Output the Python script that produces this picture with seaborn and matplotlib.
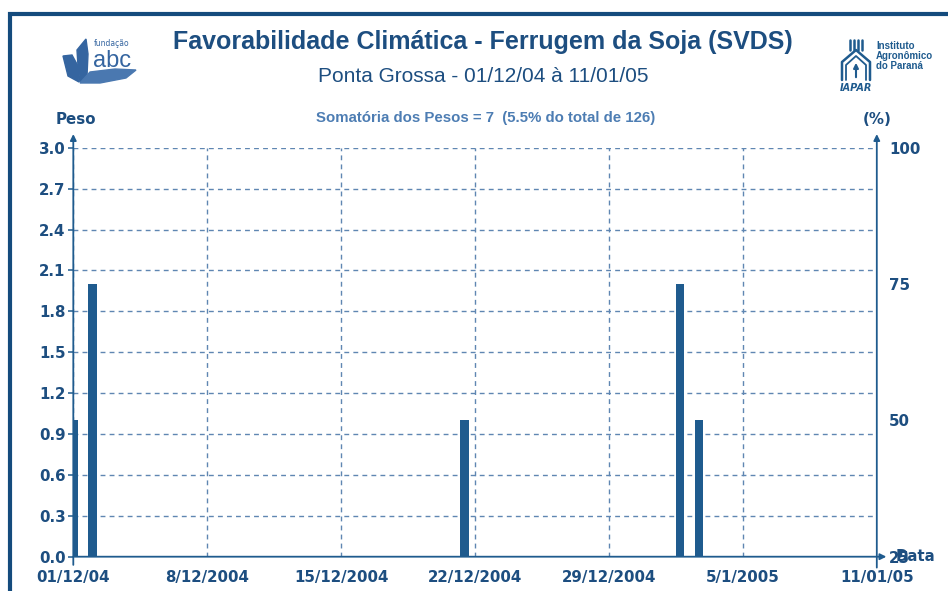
import pandas as pd
import matplotlib
matplotlib.use("Agg")
import matplotlib.pyplot as plt
import matplotlib.patches as mpatches
import seaborn as sns

# Data
inicio = pd.Timestamp("2004-12-01")
datas = ["2004-12-01 00:00", "2004-12-02 00:00", "2004-12-21 11:00",
         "2005-01-01 17:00", "2005-01-02 17:00"]
pesos = [1, 2, 1, 2, 1]
tick_dias = [0, 7, 14, 21, 28, 35, 42]
tick_rotulos = ["01/12/04", "8/12/2004", "15/12/2004", "22/12/2004",
                "29/12/2004", "5/1/2005", "11/01/05"]
peso_ticks = [0.0, 0.3, 0.6, 0.9, 1.2, 1.5, 1.8, 2.1, 2.4, 2.7, 3.0]
pct_ticks = [25, 50, 75, 100]

dias = [(pd.Timestamp(d) - inicio) / pd.Timedelta(days=1) for d in datas]
df = pd.DataFrame({"dia": dias, "peso": pesos})

# Colors
AZUL = "#1f5b8e"
AZUL_TXT = "#1d4e80"
AZUL_CLARO = "#4d7db3"
GRADE = "#5f86b2"

W, H = 948, 591
def fx(px):
    return px / W
def fy(py):
    return 1 - py / H

sns.set_style("white")
plt.rcParams["font.family"] = ["DejaVu Sans"]

fig = plt.figure(figsize=(9.48, 5.91), dpi=100)
fig.patch.set_facecolor("white")

# Main axes
ax = fig.add_axes([fx(73.3), fy(556.7), fx(876.8) - fx(73.3), fy(147.7) - fy(556.7)])
sns.barplot(data=df, x="dia", y="peso", native_scale=True, width=0.45,
            color=AZUL, saturation=1, errorbar=None, ax=ax, zorder=3)
for p in ax.patches:
    p.set_edgecolor("none")

ax.set_xlim(0, 42)
ax.set_ylim(0, 3.0)
ax.set_xticks(tick_dias)
ax.set_xticklabels(tick_rotulos)
ax.set_yticks(peso_ticks)
ax.set_yticklabels([f"{v:.1f}" for v in peso_ticks])
ax.set_xlabel("")
ax.set_ylabel("")
for s in ax.spines.values():
    s.set_visible(False)
ax.set_axisbelow(True)
ax.grid(True, linestyle=(0, (3.5, 3)), color=GRADE, linewidth=1.0)
ax.tick_params(axis="both", colors=AZUL, labelcolor=AZUL_TXT, length=3.5,
               width=1.1, direction="out", labelsize=10.8)
ax.tick_params(axis="x", pad=6)
ax.tick_params(axis="y", pad=2)
for lbl in ax.get_xticklabels() + ax.get_yticklabels():
    lbl.set_fontweight("bold")
ax.set_facecolor("none")

# Right percentage axis
ax2 = ax.twinx()
ax2.set_ylim(25, 100)
ax2.set_yticks(pct_ticks)
ax2.set_yticklabels([str(v) for v in pct_ticks])
for s in ax2.spines.values():
    s.set_visible(False)
ax2.tick_params(axis="y", length=0, pad=9, labelcolor=AZUL_TXT, labelsize=10.8)
for lbl in ax2.get_yticklabels():
    lbl.set_fontweight("bold")
ax2.grid(False)

# Axis lines with arrows
seta = dict(arrowstyle="-|>", color=AZUL, lw=1.3, mutation_scale=9,
            shrinkA=0, shrinkB=0)
ax.annotate("", xy=(0, 3.1), xytext=(0, -0.06), arrowprops=seta,
            annotation_clip=False, zorder=5)
ax.annotate("", xy=(42, 3.1), xytext=(42, -0.08), arrowprops=seta,
            annotation_clip=False, zorder=5)
ax.annotate("", xy=(42.5, 0), xytext=(0, 0), arrowprops=seta,
            annotation_clip=False, zorder=5)

# Axis titles
fig.text(fx(76), fy(119), "Peso", ha="center", va="center", fontsize=10.8,
         fontweight="bold", color=AZUL_TXT)
fig.text(fx(877), fy(120), "(%)", ha="center", va="center", fontsize=10.8,
         fontweight="bold", color=AZUL_TXT)
fig.text(fx(896), fy(556.7), "Data", ha="left", va="center", fontsize=10.8,
         fontweight="bold", color=AZUL_TXT)

# Titles
fig.text(fx(483), fy(42), "Favorabilidade Climática - Ferrugem da Soja (SVDS)",
         ha="center", va="center", fontsize=18, fontweight="bold",
         color=AZUL_TXT, family="Liberation Sans")
fig.text(fx(483), fy(77), "Ponta Grossa - 01/12/04 à 11/01/05",
         ha="center", va="center", fontsize=15, color=AZUL_TXT,
         family="Liberation Sans")
fig.text(fx(486), fy(118), "Somatória dos Pesos = 7  (5.5% do total de 126)",
         ha="center", va="center", fontsize=10.8, fontweight="bold",
         color=AZUL_CLARO, family="Liberation Sans")

# Outer frame
fig.patches.append(mpatches.Rectangle((fx(9.7), -0.1), 1.2, fy(13.5) + 0.1,
                                      transform=fig.transFigure, fill=False,
                                      edgecolor="#144b7d", linewidth=3))

# Logo fundação abc (simple sketch)
lg = fig.add_axes([fx(60), fy(86), fx(80), fy(36) - fy(86)])
lg.set_xlim(0, 80)
lg.set_ylim(50, 0)
lg.axis("off")
LOGO = "#3565a0"
lg.add_patch(mpatches.Polygon([[3, 20], [12, 19], [18, 30], [19, 46], [8, 40]],
                              closed=True, color=LOGO))
lg.add_patch(mpatches.Polygon([[17, 14], [26, 3], [28, 18], [27, 40], [20, 46], [18, 30]],
                              closed=True, color=LOGO))
lg.add_patch(mpatches.Polygon([[20, 47], [30, 36], [55, 33], [76, 34], [66, 42], [40, 47]],
                              closed=True, color="#4a78b0"))
lg.text(52, 7, "fundação", ha="center", va="center", fontsize=5.5, color=LOGO)
lg.text(52, 25, "abc", ha="center", va="center", fontsize=17, color=LOGO,
        family="Liberation Sans")

# Logo IAPAR (simple sketch)
lr = fig.add_axes([fx(836), fy(94), fx(112), fy(36) - fy(94)])
lr.set_xlim(0, 112)
lr.set_ylim(58, 0)
lr.axis("off")
for xb in [14, 18, 22, 26]:
    lr.plot([xb, xb], [4, 14], color=AZUL, lw=1.8)
lr.plot([6, 6, 20, 34, 34], [44, 26, 14, 26, 44], color=AZUL, lw=1.8)
lr.plot([10, 10, 20, 30, 30], [44, 29, 20, 29, 44], color=AZUL, lw=1.3)
lr.annotate("", xy=(20, 24), xytext=(20, 44),
            arrowprops=dict(arrowstyle="-|>", color=AZUL, lw=1.5, mutation_scale=7))
lr.text(4, 52, "IAPAR", ha="left", va="center", fontsize=7, fontweight="bold",
        style="italic", color=AZUL)
lr.text(40, 10, "Instituto", ha="left", va="center", fontsize=7, color=AZUL,
        fontweight="bold", family="Liberation Sans")
lr.text(40, 20, "Agronômico", ha="left", va="center", fontsize=7, color=AZUL,
        fontweight="bold", family="Liberation Sans")
lr.text(40, 30, "do Paraná", ha="left", va="center", fontsize=7, color=AZUL,
        fontweight="bold", family="Liberation Sans")

fig.savefig("out.png", dpi=100, facecolor="white")
